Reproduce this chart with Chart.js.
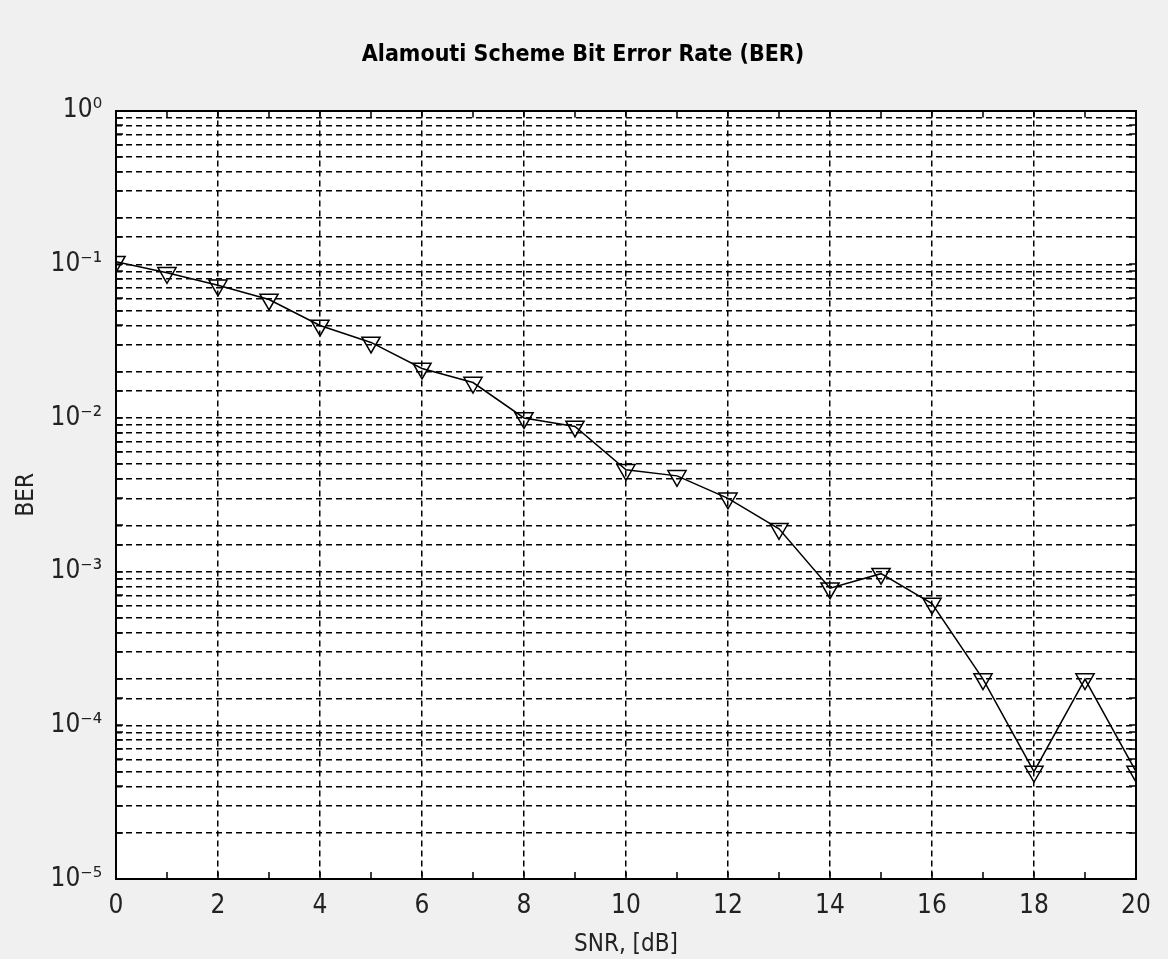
<!DOCTYPE html>
<html>
<head>
<meta charset="utf-8">
<script src="https://cdn.jsdelivr.net/npm/chart.js@4.4.1/dist/chart.umd.min.js"></script>
<style>
  html, body { margin: 0; padding: 0; background: #f0f0f0; }
  #wrap { width: 1168px; height: 959px; }
</style>
</head>
<body>
<div id="wrap"><canvas id="berChart"></canvas></div>
<script>
let snr = [0, 1, 2, 3, 4, 5, 6, 7, 8, 9, 10, 11, 12, 13, 14, 15, 16, 17, 18, 19, 20]
let ber = [0.104, 0.088, 0.073, 0.059, 0.040, 0.031, 0.021, 0.017, 0.0100, 0.0088, 0.0046,
           0.0042, 0.0030, 0.0019, 0.00078, 0.00097, 0.00062, 0.0002, 0.00005, 0.0002, 0.00005]
let xTicks = [0, 2, 4, 6, 8, 10, 12, 14, 16, 18, 20]

let narrow = "'Liberation Sans Narrow', 'DejaVu Sans Condensed', 'Arial Narrow', sans-serif"
let supMap = { '0': '⁰', '1': '¹', '2': '²', '3': '³', '4': '⁴', '5': '⁵', '-': '⁻' }
let sup = (n) => String(n).split('').map(c => supMap[c]).join('')

// white plot area, solid box and inward tick marks like MATLAB
let boxPlugin = {
    id: 'box',
    beforeDraw: (chart) => {
        let a = chart.chartArea, c = chart.ctx
        c.save()
        c.fillStyle = '#fff'
        c.fillRect(a.left, a.top, a.right - a.left, a.bottom - a.top)
        c.restore()
    },
    afterDatasetsDraw: (chart) => {
        let a = chart.chartArea, c = chart.ctx
        let xs = chart.scales.x, ys = chart.scales.y
        c.save()
        c.strokeStyle = '#000'
        c.lineWidth = 1.5
        c.beginPath()
        snr.forEach(v => {
            let px = Math.round(xs.getPixelForValue(v))
            c.moveTo(px, a.bottom); c.lineTo(px, a.bottom - 7)
            c.moveTo(px, a.top); c.lineTo(px, a.top + 7)
        })
        ys.ticks.forEach(t => {
            let py = Math.round(ys.getPixelForValue(t.value))
            c.moveTo(a.left, py); c.lineTo(a.left + 7, py)
            c.moveTo(a.right, py); c.lineTo(a.right - 7, py)
        })
        c.stroke()
        c.lineWidth = 2
        c.strokeRect(Math.round(a.left), Math.round(a.top),
                     Math.round(a.right - a.left), Math.round(a.bottom - a.top))
        c.restore()
    }
}

let ctx = document.getElementById('berChart').getContext('2d')

let berChart = new Chart(ctx, {
    type: 'line',
    data: {
        datasets: [{
            data: snr.map((s, i) => ({ x: s, y: ber[i] })),
            borderColor: '#000',
            borderWidth: 1.5,
            tension: 0,
            pointStyle: 'triangle',
            pointRotation: 180,
            pointRadius: 10.5,
            pointBorderWidth: 1.5,
            pointBorderColor: '#000',
            pointBackgroundColor: 'rgba(0,0,0,0)'
        }]
    },
    options: {
        responsive: true,
        maintainAspectRatio: false,
        animation: false,
        events: [],
        layout: {
            padding: { left: 30, right: 32, top: 0, bottom: 0 }
        },
        plugins: {
            legend: { display: false },
            tooltip: { enabled: false },
            title: {
                display: true,
                text: 'Alamouti Scheme Bit Error Rate (BER)',
                color: '#000',
                font: { family: narrow, size: 23, weight: 'bold' },
                padding: { top: 41, bottom: 42 }
            }
        },
        scales: {
            x: {
                type: 'linear',
                min: 0,
                max: 20,
                afterBuildTicks: (scale) => {
                    scale.ticks = xTicks.map(v => ({ value: v }))
                },
                afterFit: (scale) => { scale.height = 80 },
                grid: { color: '#000', lineWidth: 1.5, drawTicks: false },
                border: { display: false, dash: [6, 4] },
                ticks: {
                    color: '#222',
                    padding: 12,
                    maxRotation: 0,
                    autoSkip: false,
                    font: { family: narrow, size: 26 }
                },
                title: {
                    display: true,
                    text: 'SNR, [dB]',
                    color: '#222',
                    font: { family: narrow, size: 24 },
                    padding: { top: 0, bottom: 0 }
                }
            },
            y: {
                type: 'logarithmic',
                min: 1e-5,
                max: 1,
                afterFit: (scale) => { scale.width = 86 },
                grid: { color: '#000', lineWidth: 1.5, drawTicks: false },
                border: { display: false, dash: [6, 4] },
                ticks: {
                    color: '#222',
                    padding: 14,
                    autoSkip: false,
                    font: { family: narrow, size: 26 },
                    callback: (value) => {
                        let e = Math.log10(value)
                        if (Math.abs(e - Math.round(e)) < 1e-9) {
                            return '10' + sup(Math.round(e))
                        }
                        return ''
                    }
                },
                title: {
                    display: true,
                    text: 'BER',
                    color: '#222',
                    font: { family: narrow, size: 24 },
                    padding: { top: -18, bottom: 0 }
                }
            }
        }
    },
    plugins: [boxPlugin]
})
</script>
</body>
</html>
